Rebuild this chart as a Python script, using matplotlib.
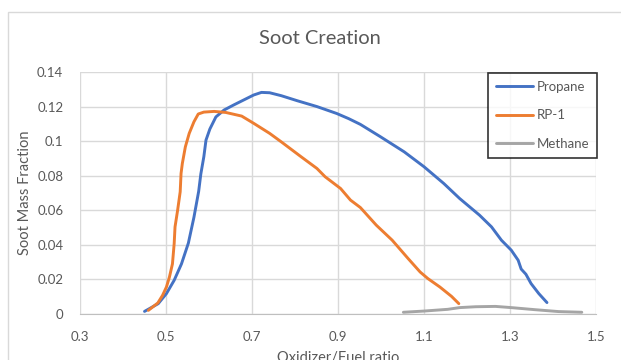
import matplotlib
matplotlib.use("Agg")
import matplotlib.pyplot as plt
from matplotlib.patches import Rectangle

plt.rcParams['font.family'] = ['Lato', 'DejaVu Sans']

# Propane soot curve
propane_x = [0.450, 0.482, 0.501, 0.519, 0.536, 0.552, 0.565, 0.576, 0.581, 0.588,
             0.593, 0.602, 0.616, 0.635, 0.658, 0.704, 0.722, 0.741, 0.768, 0.805,
             0.851, 0.897, 0.925, 0.952, 0.999, 1.054, 1.100, 1.146, 1.183, 1.229,
             1.257, 1.280, 1.303, 1.319, 1.326, 1.337, 1.349, 1.367, 1.386]
propane_y = [0.0015, 0.0060, 0.0118, 0.0195, 0.0290, 0.0410, 0.0560, 0.0710, 0.0810, 0.0910,
             0.1006, 0.1070, 0.1140, 0.1180, 0.1210, 0.1267, 0.1282, 0.1280, 0.1263, 0.1234,
             0.1200, 0.1160, 0.1130, 0.1097, 0.1025, 0.0938, 0.0852, 0.0755, 0.0668, 0.0572,
             0.0504, 0.0427, 0.0369, 0.0311, 0.0260, 0.0230, 0.0176, 0.0118, 0.0066]

# RP-1 soot curve
rp1_x = [0.459, 0.481, 0.492, 0.501, 0.508, 0.515, 0.519, 0.521, 0.527, 0.533,
         0.535, 0.538, 0.545, 0.554, 0.565, 0.575, 0.588, 0.612, 0.639, 0.676,
         0.704, 0.741, 0.768, 0.814, 0.851, 0.870, 0.906, 0.929, 0.952, 0.989,
         1.026, 1.063, 1.091, 1.109, 1.137, 1.164, 1.181]
rp1_y = [0.0021, 0.0064, 0.0108, 0.0156, 0.0214, 0.0290, 0.0407, 0.0504, 0.0600, 0.0707,
         0.0813, 0.0871, 0.0967, 0.1045, 0.1112, 0.1157, 0.1168, 0.1172, 0.1166, 0.1145,
         0.1103, 0.1045, 0.0996, 0.0910, 0.0842, 0.0794, 0.0726, 0.0659, 0.0616, 0.0514,
         0.0427, 0.0321, 0.0243, 0.0205, 0.0156, 0.0102, 0.0060]

# Methane soot curve
methane_x = [1.052, 1.100, 1.155, 1.183, 1.220, 1.266, 1.303, 1.358, 1.413, 1.467]
methane_y = [0.0010, 0.0017, 0.0027, 0.0037, 0.0042, 0.0044, 0.0037, 0.0025, 0.0014, 0.0010]

x_ticks = [0.3, 0.5, 0.7, 0.9, 1.1, 1.3, 1.5]
y_ticks = [0, 0.02, 0.04, 0.06, 0.08, 0.1, 0.12, 0.14]
y_tick_labels = ["0", "0.02", "0.04", "0.06", "0.08", "0.1", "0.12", "0.14"]

W, H = 621, 360
fig = plt.figure(figsize=(W / 100, H / 100), dpi=100)

# chart-area frame
fig.patches.append(Rectangle((8 / W, -0.1), 1.0, 1 - 12 / H + 0.1,
                             transform=fig.transFigure, fill=False,
                             edgecolor="#d9d9d9", linewidth=1.0))

ax = fig.add_axes([80 / W, 1 - 314 / H, (596 - 80) / W, (314 - 72) / H])

ax.plot(propane_x, propane_y, color="#4472C4", lw=2.1, label="Propane",
        solid_capstyle="round")
ax.plot(rp1_x, rp1_y, color="#ED7D31", lw=2.1, label="RP-1",
        solid_capstyle="round")
ax.plot(methane_x, methane_y, color="#A5A5A5", lw=2.1, label="Methane",
        solid_capstyle="round")

ax.set_xlim(0.3, 1.5)
ax.set_ylim(0, 0.14)
ax.set_xticks(x_ticks)
ax.set_xticklabels([f"{v:g}" for v in x_ticks])
ax.set_yticks(y_ticks)
ax.set_yticklabels(y_tick_labels)
ax.grid(True, color="#d9d9d9", lw=1.0)
ax.set_axisbelow(True)
for side in ["top", "right", "left"]:
    ax.spines[side].set_visible(False)
ax.spines["bottom"].set_color("#bfbfbf")
ax.tick_params(length=0, labelsize=9.5, colors="#595959")
ax.tick_params(axis="x", pad=12)
ax.tick_params(axis="y", pad=12)

ax.set_ylabel("Soot Mass Fraction", fontsize=10.5, color="#595959", labelpad=4)
ax.set_xlabel("Oxidizer/Fuel ratio", fontsize=10.5, color="#595959", labelpad=6)

fig.text(320 / W, 1 - 39 / H, "Soot Creation", ha="center", va="center",
         fontsize=14.5, color="#595959")

leg = ax.legend(loc="upper left", bbox_to_anchor=((488 - 80) / 516, 1 - (73 - 72) / 242),
                frameon=True, fancybox=False, fontsize=9.5, handlelength=2.8,
                handletextpad=0.3, labelspacing=1.25, borderpad=0.6,
                borderaxespad=0)
leg.get_frame().set_edgecolor("black")
leg.get_frame().set_linewidth(1.2)
for t in leg.get_texts():
    t.set_color("#595959")

fig.savefig("out.png", dpi=100)
